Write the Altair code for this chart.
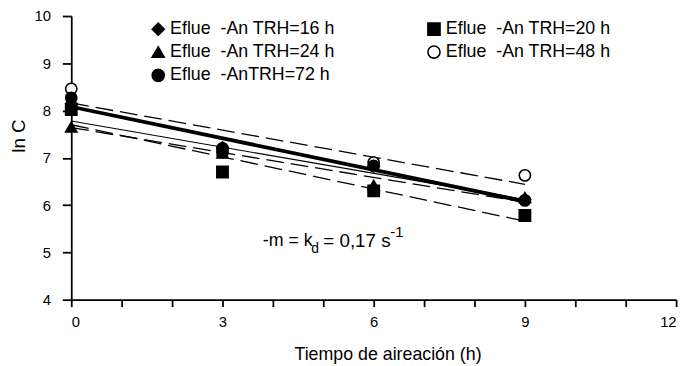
import altair as alt
import pandas as pd

# ---- data ----
times = [0, 3, 6, 9]
series = [
    "Eflue\u00a0 -An TRH=16 h",
    "Eflue\u00a0 -An TRH=20 h",
    "Eflue\u00a0 -An TRH=24 h",
    "Eflue\u00a0 -An TRH=48 h",
    "Eflue\u00a0 -AnTRH=72 h",
]
trh16 = [8.15, 7.22, 6.82, 6.12]
trh20 = [8.02, 6.70, 6.30, 5.78]
trh24 = [7.65, 7.10, 6.42, 6.16]
trh48 = [8.46, 7.20, 6.90, 6.63]
trh72 = [8.27, 7.12, 6.83, 6.10]
values = [trh16, trh20, trh24, trh48, trh72]
shapes = ["diamond", "square", "triangle-up", "circle", "circle"]
fills = ["black", "black", "black", "white", "black"]
strokes = ["black"] * 5
draw_order = [3, 1, 2, 4, 0]  # open circles drawn first

line_x = [0, 9]
fit_line = [8.08, 6.08]
upper_band = [8.16, 6.44]
thin_line = [7.78, 6.12]
mid_band = [7.64, 6.06]
lower_band = [7.70, 5.66]

ann_text = ["-m = k", "d", "= 0,17 s", "-1"]
ann_x = [3.80, 4.76, 5.0, 6.33]
ann_y = [5.23, 5.08, 5.23, 5.42]
ann_size = [18, 14, 19, 15]

FONT = "Liberation Sans"

rows = []
for i in draw_order:
    for t, v in zip(times, values[i]):
        rows.append({"t": t, "lnC": v, "serie": series[i]})
pts = pd.DataFrame(rows)

xs = alt.Scale(domain=[0, 12], nice=False, zero=False)
ys = alt.Scale(domain=[4, 10], nice=False, zero=False)

x_axis = alt.Axis(
    values=list(range(0, 13)),
    labelExpr="datum.value % 3 == 0 ? datum.label : ''",
    tickSize=7, labelPadding=8,
    title="Tiempo de aireación (h)", titleY=61, titleX=320,
    titleBaseline="alphabetic", titleFontSize=18,
)
y_axis = alt.Axis(
    values=list(range(4, 11)), tickSize=9, labelPadding=12,
    title="ln C", titleX=-53, titleY=121, titleAngle=-90,
    titleAlign="center", titleBaseline="middle", titleFontSize=19,
)


def line_layer(yvals, **kw):
    df = pd.DataFrame({"t": line_x, "lnC": yvals})
    return alt.Chart(df).mark_line(color="black", **kw).encode(
        x=alt.X("t:Q", scale=xs, axis=x_axis),
        y=alt.Y("lnC:Q", scale=ys, axis=y_axis),
    )


dash = [18, 7]
lines = [
    line_layer(upper_band, strokeWidth=1.3, strokeDash=dash),
    line_layer(mid_band, strokeWidth=1.3, strokeDash=dash),
    line_layer(lower_band, strokeWidth=1.3, strokeDash=dash),
    line_layer(thin_line, strokeWidth=1.1),
    line_layer(fit_line, strokeWidth=3.8),
]

leg = alt.Legend(title=None)
points = alt.Chart(pts).mark_point(
    filled=True, strokeWidth=1.6, size=130, opacity=1
).encode(
    x=alt.X("t:Q", scale=xs, axis=x_axis),
    y=alt.Y("lnC:Q", scale=ys, axis=y_axis),
    shape=alt.Shape("serie:N", scale=alt.Scale(domain=series, range=shapes),
                    sort=series, legend=leg),
    fill=alt.Fill("serie:N", scale=alt.Scale(domain=series, range=fills),
                  sort=series, legend=leg),
    stroke=alt.Stroke("serie:N", scale=alt.Scale(domain=series, range=strokes),
                      sort=series, legend=leg),
)

ann_df = pd.DataFrame({"t": ann_x, "lnC": ann_y, "txt": ann_text, "fs": ann_size})
ann = alt.Chart(ann_df).mark_text(
    align="left", baseline="middle", font=FONT, color="black"
).encode(
    x=alt.X("t:Q", scale=xs, axis=x_axis),
    y=alt.Y("lnC:Q", scale=ys, axis=y_axis),
    text="txt:N",
    size=alt.Size("fs:Q", scale=None, legend=None),
)

chart = alt.layer(*lines, points, ann).properties(
    width=612, height=287,
    autosize=alt.AutoSizeParams(type="none"),
    padding={"left": 64, "top": 6, "right": 10, "bottom": 65},
).configure_view(stroke=None).configure_axis(
    grid=False, domainColor="black", tickColor="black", labelColor="black",
    titleColor="black", domainWidth=1.8, tickWidth=1.8,
    labelFont=FONT, labelFontSize=15, titleFont=FONT, titleFontSize=17,
    titleFontWeight="normal",
).configure_legend(
    orient="none", legendX=79, legendY=4, columns=2, direction="horizontal",
    columnPadding=90, rowPadding=3.5, padding=0, labelFont=FONT,
    labelFontSize=18, labelColor="black", symbolSize=150,
    symbolStrokeWidth=1.6, labelOffset=3, labelLimit=400,
)

chart.save("out.html", embed_options={"renderer": "svg", "actions": False})
